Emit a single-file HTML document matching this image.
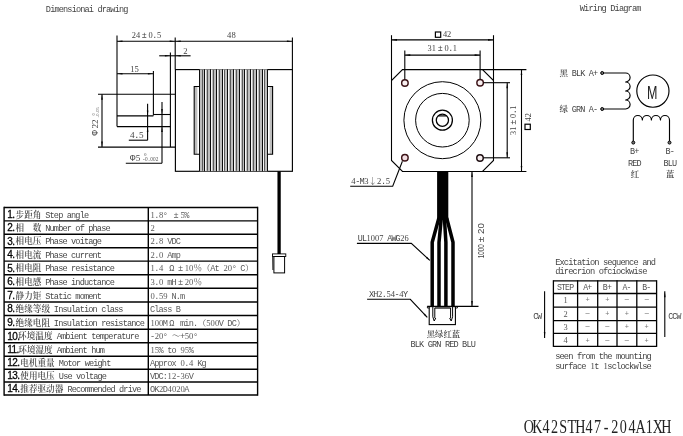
<!DOCTYPE html>
<html lang="zh"><head><meta charset="utf-8"><title>OK42STH47-204A1XH</title>
<style>
html,body{margin:0;padding:0;background:#fff;}
body{width:683px;height:436px;overflow:hidden;}
svg{display:block;}
</style></head><body>
<svg width="683" height="436" viewBox="0 0 683 436">
<rect width="683" height="436" fill="#fff"/>
<g opacity="0.999">
<text x="48.45 52.75 57.05 61.35 65.65 69.95 74.25 78.55 82.85 87.15 91.45 95.75 100.05 104.35 108.65 112.95 117.25 121.55 125.85" y="12.00" font-size="8.60" fill="#444" font-family='"Liberation Mono","Noto Serif CJK SC",monospace' text-anchor="middle" >Dimensionai drawing</text>
<text x="582.38 586.73 591.08 595.43 599.78 604.13 608.48 612.83 617.18 621.53 625.88 630.23 634.58 638.93" y="10.60" font-size="8.70" fill="#444" font-family='"Liberation Mono","Noto Serif CJK SC",monospace' text-anchor="middle" >Wiring Diagram</text>
<line x1="117.00" y1="35.50" x2="117.00" y2="126.60" stroke="#000" stroke-width="1.10" />
<line x1="175.20" y1="37.60" x2="175.20" y2="69.30" stroke="#000" stroke-width="1.10" />
<line x1="292.40" y1="37.40" x2="292.40" y2="69.60" stroke="#000" stroke-width="1.10" />
<line x1="117.00" y1="41.20" x2="292.40" y2="41.20" stroke="#000" stroke-width="1.10" />
<polygon points="117.00,41.20 122.50,40.40 122.50,42.00" fill="#000"/>
<polygon points="175.20,41.20 169.70,42.00 169.70,40.40" fill="#000"/>
<polygon points="175.20,41.20 180.70,40.40 180.70,42.00" fill="#000"/>
<polygon points="292.40,41.20 286.90,42.00 286.90,40.40" fill="#000"/>
<text x="133.80 138.00 144.30 150.60 154.80 159.00" y="37.80" font-size="8.40" fill="#444" font-family='"Liberation Mono","Noto Serif CJK SC",monospace' text-anchor="middle" ><tspan font-family='"Liberation Serif","Noto Serif CJK SC",serif'>24</tspan>±<tspan font-family='"Liberation Serif","Noto Serif CJK SC",serif'>0</tspan>.<tspan font-family='"Liberation Serif","Noto Serif CJK SC",serif'>5</tspan></text>
<text x="229.25 233.55" y="37.80" font-size="8.60" fill="#444" font-family='"Liberation Mono","Noto Serif CJK SC",monospace' text-anchor="middle" ><tspan font-family='"Liberation Serif","Noto Serif CJK SC",serif'>48</tspan></text>
<line x1="159.20" y1="55.80" x2="190.60" y2="55.80" stroke="#000" stroke-width="1.10" />
<line x1="170.40" y1="52.50" x2="170.40" y2="147.10" stroke="#000" stroke-width="1.10" />
<polygon points="170.40,55.80 164.90,56.60 164.90,55.00" fill="#000"/>
<polygon points="175.20,55.80 180.70,55.00 180.70,56.60" fill="#000"/>
<text x="185.50" y="54.00" font-size="8.60" fill="#444" font-family='"Liberation Mono","Noto Serif CJK SC",monospace' text-anchor="middle" ><tspan font-family='"Liberation Serif","Noto Serif CJK SC",serif'>2</tspan></text>
<line x1="117.00" y1="73.80" x2="153.40" y2="73.80" stroke="#000" stroke-width="1.10" />
<line x1="153.40" y1="71.00" x2="153.40" y2="115.60" stroke="#000" stroke-width="1.10" />
<polygon points="117.00,73.80 122.50,73.00 122.50,74.60" fill="#000"/>
<polygon points="153.40,73.80 147.90,74.60 147.90,73.00" fill="#000"/>
<text x="132.35 136.65" y="71.70" font-size="8.60" fill="#444" font-family='"Liberation Mono","Noto Serif CJK SC",monospace' text-anchor="middle" ><tspan font-family='"Liberation Serif","Noto Serif CJK SC",serif'>15</tspan></text>
<line x1="98.00" y1="94.20" x2="175.20" y2="94.20" stroke="#000" stroke-width="1.10" />
<line x1="98.00" y1="147.10" x2="175.20" y2="147.10" stroke="#000" stroke-width="1.10" />
<line x1="102.00" y1="94.20" x2="102.00" y2="147.10" stroke="#000" stroke-width="1.10" />
<polygon points="102.00,94.20 102.80,99.70 101.20,99.70" fill="#000"/>
<polygon points="102.00,147.10 101.20,141.60 102.80,141.60" fill="#000"/>
<line x1="117.00" y1="115.90" x2="153.40" y2="115.90" stroke="#000" stroke-width="1.10" />
<line x1="153.40" y1="114.50" x2="170.40" y2="114.50" stroke="#000" stroke-width="1.10" />
<line x1="117.00" y1="126.60" x2="170.40" y2="126.60" stroke="#000" stroke-width="1.10" />
<line x1="147.60" y1="103.80" x2="147.60" y2="140.20" stroke="#000" stroke-width="1.10" />
<polygon points="147.60,115.90 146.80,110.40 148.40,110.40" fill="#000"/>
<polygon points="147.60,126.60 148.40,132.10 146.80,132.10" fill="#000"/>
<line x1="128.80" y1="140.20" x2="147.60" y2="140.20" stroke="#000" stroke-width="1.10" />
<text x="132.20 136.80 141.40" y="138.30" font-size="9.20" fill="#444" font-family='"Liberation Mono","Noto Serif CJK SC",monospace' text-anchor="middle" ><tspan font-family='"Liberation Serif","Noto Serif CJK SC",serif'>4</tspan>.<tspan font-family='"Liberation Serif","Noto Serif CJK SC",serif'>5</tspan></text>
<line x1="162.00" y1="102.00" x2="162.00" y2="163.30" stroke="#000" stroke-width="1.10" />
<polygon points="162.00,114.50 161.20,109.00 162.80,109.00" fill="#000"/>
<polygon points="162.00,126.60 162.80,132.10 161.20,132.10" fill="#000"/>
<line x1="125.80" y1="163.30" x2="162.00" y2="163.30" stroke="#000" stroke-width="1.10" />
<text x="132.60" y="160.90" font-size="9.00" fill="#444" font-family='"Liberation Mono","Noto Serif CJK SC",monospace' text-anchor="middle" >Φ</text>
<text x="138.10" y="160.90" font-size="9.20" fill="#444" font-family='"Liberation Mono","Noto Serif CJK SC",monospace' text-anchor="middle" ><tspan font-family='"Liberation Serif","Noto Serif CJK SC",serif'>5</tspan></text>
<text x="145.25" y="156.20" font-size="5.00" fill="#555" font-family='"Liberation Mono","Noto Serif CJK SC",monospace' text-anchor="middle" ><tspan font-family='"Liberation Serif","Noto Serif CJK SC",serif'>0</tspan></text>
<text x="143.72 146.38 149.03 151.68 154.33 156.98" y="161.20" font-size="5.30" fill="#555" font-family='"Liberation Mono","Noto Serif CJK SC",monospace' text-anchor="middle" >-<tspan font-family='"Liberation Serif","Noto Serif CJK SC",serif'>0</tspan>.<tspan font-family='"Liberation Serif","Noto Serif CJK SC",serif'>002</tspan></text>
<g transform="translate(98.3,121) rotate(-90)">
<text x="-11.80" y="0.00" font-size="9.00" fill="#444" font-family='"Liberation Mono","Noto Serif CJK SC",monospace' text-anchor="middle" >Φ</text>
<text x="-5.30 -0.70" y="0.00" font-size="9.20" fill="#444" font-family='"Liberation Mono","Noto Serif CJK SC",monospace' text-anchor="middle" ><tspan font-family='"Liberation Serif","Noto Serif CJK SC",serif'>22</tspan></text>
<text x="6.50" y="-3.40" font-size="4.40" fill="#555" font-family='"Liberation Mono","Noto Serif CJK SC",monospace' text-anchor="middle" ><tspan font-family='"Liberation Serif","Noto Serif CJK SC",serif'>0</tspan></text>
<text x="4.32 6.38 8.42 10.47 12.53" y="0.20" font-size="4.40" fill="#555" font-family='"Liberation Mono","Noto Serif CJK SC",monospace' text-anchor="middle" >-<tspan font-family='"Liberation Serif","Noto Serif CJK SC",serif'>0</tspan>.<tspan font-family='"Liberation Serif","Noto Serif CJK SC",serif'>05</tspan></text>
</g>
<rect x="175.40" y="69.60" width="117.00" height="101.70" stroke="#000" stroke-width="1.15" fill="none"/>
<rect x="199.20" y="69.3" width="68.60" height="102" fill="#bebebe"/>
<line x1="199.50" y1="69.30" x2="199.50" y2="171.30" stroke="#0c0c0c" stroke-width="1.00" />
<line x1="202.50" y1="69.80" x2="202.50" y2="170.80" stroke="#5a5a5a" stroke-width="1.00" />
<line x1="205.50" y1="69.80" x2="205.50" y2="170.80" stroke="#f6f6f6" stroke-width="1.00" />
<line x1="204.50" y1="69.30" x2="204.50" y2="171.30" stroke="#0c0c0c" stroke-width="1.00" />
<line x1="207.50" y1="69.80" x2="207.50" y2="170.80" stroke="#5a5a5a" stroke-width="1.00" />
<line x1="211.50" y1="69.80" x2="211.50" y2="170.80" stroke="#f6f6f6" stroke-width="1.00" />
<line x1="210.50" y1="69.30" x2="210.50" y2="171.30" stroke="#0c0c0c" stroke-width="1.00" />
<line x1="213.50" y1="69.80" x2="213.50" y2="170.80" stroke="#5a5a5a" stroke-width="1.00" />
<line x1="217.50" y1="69.80" x2="217.50" y2="170.80" stroke="#f6f6f6" stroke-width="1.00" />
<line x1="216.50" y1="69.30" x2="216.50" y2="171.30" stroke="#0c0c0c" stroke-width="1.00" />
<line x1="219.50" y1="69.80" x2="219.50" y2="170.80" stroke="#5a5a5a" stroke-width="1.00" />
<line x1="223.50" y1="69.80" x2="223.50" y2="170.80" stroke="#f6f6f6" stroke-width="1.00" />
<line x1="222.50" y1="69.30" x2="222.50" y2="171.30" stroke="#0c0c0c" stroke-width="1.00" />
<line x1="224.50" y1="69.80" x2="224.50" y2="170.80" stroke="#5a5a5a" stroke-width="1.00" />
<line x1="228.50" y1="69.80" x2="228.50" y2="170.80" stroke="#f6f6f6" stroke-width="1.00" />
<line x1="227.50" y1="69.30" x2="227.50" y2="171.30" stroke="#0c0c0c" stroke-width="1.00" />
<line x1="230.50" y1="69.80" x2="230.50" y2="170.80" stroke="#5a5a5a" stroke-width="1.00" />
<line x1="234.50" y1="69.80" x2="234.50" y2="170.80" stroke="#f6f6f6" stroke-width="1.00" />
<line x1="233.50" y1="69.30" x2="233.50" y2="171.30" stroke="#0c0c0c" stroke-width="1.00" />
<line x1="236.50" y1="69.80" x2="236.50" y2="170.80" stroke="#5a5a5a" stroke-width="1.00" />
<line x1="240.50" y1="69.80" x2="240.50" y2="170.80" stroke="#f6f6f6" stroke-width="1.00" />
<line x1="239.50" y1="69.30" x2="239.50" y2="171.30" stroke="#0c0c0c" stroke-width="1.00" />
<line x1="242.50" y1="69.80" x2="242.50" y2="170.80" stroke="#5a5a5a" stroke-width="1.00" />
<line x1="245.50" y1="69.80" x2="245.50" y2="170.80" stroke="#f6f6f6" stroke-width="1.00" />
<line x1="244.50" y1="69.30" x2="244.50" y2="171.30" stroke="#0c0c0c" stroke-width="1.00" />
<line x1="247.50" y1="69.80" x2="247.50" y2="170.80" stroke="#5a5a5a" stroke-width="1.00" />
<line x1="251.50" y1="69.80" x2="251.50" y2="170.80" stroke="#f6f6f6" stroke-width="1.00" />
<line x1="250.50" y1="69.30" x2="250.50" y2="171.30" stroke="#0c0c0c" stroke-width="1.00" />
<line x1="253.50" y1="69.80" x2="253.50" y2="170.80" stroke="#5a5a5a" stroke-width="1.00" />
<line x1="257.50" y1="69.80" x2="257.50" y2="170.80" stroke="#f6f6f6" stroke-width="1.00" />
<line x1="256.50" y1="69.30" x2="256.50" y2="171.30" stroke="#0c0c0c" stroke-width="1.00" />
<line x1="259.50" y1="69.80" x2="259.50" y2="170.80" stroke="#5a5a5a" stroke-width="1.00" />
<line x1="263.50" y1="69.80" x2="263.50" y2="170.80" stroke="#f6f6f6" stroke-width="1.00" />
<line x1="262.50" y1="69.30" x2="262.50" y2="171.30" stroke="#0c0c0c" stroke-width="1.00" />
<line x1="264.50" y1="69.80" x2="264.50" y2="170.80" stroke="#5a5a5a" stroke-width="1.00" />
<line x1="267.50" y1="69.30" x2="267.50" y2="171.30" stroke="#0c0c0c" stroke-width="1.00" />
<rect x="194.6" y="86.6" width="2.8" height="67.4" fill="#bdbdbd"/>
<rect x="269.6" y="86.6" width="2.6" height="67.4" fill="#bdbdbd"/>
<path d="M199.2,86.5 H194.2 V154.2 H199.2" stroke="#000" stroke-width="1.10" fill="none" />
<path d="M267.8,86.5 H272.6 V154.2 H267.8" stroke="#000" stroke-width="1.10" fill="none" />
<line x1="279.10" y1="171.30" x2="279.10" y2="254.00" stroke="#000" stroke-width="3.30" />
<rect x="272.50" y="253.90" width="13.30" height="2.60" stroke="#000" stroke-width="0.90" fill="none"/>
<rect x="273.90" y="256.50" width="10.70" height="16.40" stroke="#000" stroke-width="1.00" fill="none"/>
<line x1="272.70" y1="256.50" x2="272.90" y2="270.00" stroke="#000" stroke-width="0.90" />
<line x1="4.10" y1="207.45" x2="257.60" y2="207.45" stroke="#000" stroke-width="1.40" />
<line x1="4.10" y1="220.90" x2="257.60" y2="220.90" stroke="#000" stroke-width="1.40" />
<line x1="4.10" y1="234.30" x2="257.60" y2="234.30" stroke="#000" stroke-width="1.40" />
<line x1="4.10" y1="247.70" x2="257.60" y2="247.70" stroke="#000" stroke-width="1.40" />
<line x1="4.10" y1="261.10" x2="257.60" y2="261.10" stroke="#000" stroke-width="1.40" />
<line x1="4.10" y1="274.80" x2="257.60" y2="274.80" stroke="#000" stroke-width="1.40" />
<line x1="4.10" y1="288.30" x2="257.60" y2="288.30" stroke="#000" stroke-width="1.40" />
<line x1="4.10" y1="302.00" x2="257.60" y2="302.00" stroke="#000" stroke-width="1.40" />
<line x1="4.10" y1="315.50" x2="257.60" y2="315.50" stroke="#000" stroke-width="1.40" />
<line x1="4.10" y1="329.30" x2="257.60" y2="329.30" stroke="#000" stroke-width="1.40" />
<line x1="4.10" y1="342.80" x2="257.60" y2="342.80" stroke="#000" stroke-width="1.40" />
<line x1="4.10" y1="356.20" x2="257.60" y2="356.20" stroke="#000" stroke-width="1.40" />
<line x1="4.10" y1="369.30" x2="257.60" y2="369.30" stroke="#000" stroke-width="1.40" />
<line x1="4.10" y1="382.00" x2="257.60" y2="382.00" stroke="#000" stroke-width="1.40" />
<line x1="4.10" y1="395.00" x2="257.60" y2="395.00" stroke="#000" stroke-width="1.40" />
<line x1="4.10" y1="206.75" x2="4.10" y2="395.70" stroke="#000" stroke-width="1.40" />
<line x1="257.60" y1="206.75" x2="257.60" y2="395.70" stroke="#000" stroke-width="1.40" />
<line x1="148.30" y1="207.45" x2="148.30" y2="395.00" stroke="#000" stroke-width="1.40" />
<text x="7.30" y="217.78" font-size="10" fill="#000" stroke="#000" stroke-width="0.28" font-family='"Liberation Sans",sans-serif' letter-spacing="-0.55">1.</text>
<text x="19.90 28.50 37.10" y="217.58" font-size="8.60" fill="#4a4a4a" font-family='"Liberation Mono","Noto Serif CJK SC",monospace' text-anchor="middle" font-weight="600" >步距角</text>
<text x="47.85 52.15 56.45 60.75 65.05 69.35 73.65 77.95 82.25 86.55" y="217.58" font-size="8.60" fill="#484848" font-family='"Liberation Mono","Noto Serif CJK SC",monospace' text-anchor="middle" >Step angle</text>
<text x="152.55 156.85 161.15 165.45 169.75 176.20 182.65 186.95" y="217.58" font-size="8.60" fill="#5a5a5a" font-family='"Liberation Mono","Noto Serif CJK SC",monospace' text-anchor="middle" ><tspan font-family='"Liberation Serif","Noto Serif CJK SC",serif'>1</tspan>.<tspan font-family='"Liberation Serif","Noto Serif CJK SC",serif'>8</tspan>° ±<tspan font-family='"Liberation Serif","Noto Serif CJK SC",serif'>5</tspan>%</text>
<text x="7.30" y="231.20" font-size="10" fill="#000" stroke="#000" stroke-width="0.28" font-family='"Liberation Sans",sans-serif' letter-spacing="-0.55">2.</text>
<text x="19.90" y="231.00" font-size="8.60" fill="#4a4a4a" font-family='"Liberation Mono","Noto Serif CJK SC",monospace' text-anchor="middle" font-weight="600" >相</text>
<text x="37.10" y="231.00" font-size="8.60" fill="#4a4a4a" font-family='"Liberation Mono","Noto Serif CJK SC",monospace' text-anchor="middle" font-weight="600" >数</text>
<text x="47.85 52.15 56.45 60.75 65.05 69.35 73.65 77.95 82.25 86.55 90.85 95.15 99.45 103.75 108.05" y="231.00" font-size="8.60" fill="#484848" font-family='"Liberation Mono","Noto Serif CJK SC",monospace' text-anchor="middle" >Number of phase</text>
<text x="152.55" y="231.00" font-size="8.60" fill="#5a5a5a" font-family='"Liberation Mono","Noto Serif CJK SC",monospace' text-anchor="middle" ><tspan font-family='"Liberation Serif","Noto Serif CJK SC",serif'>2</tspan></text>
<text x="7.30" y="244.60" font-size="10" fill="#000" stroke="#000" stroke-width="0.28" font-family='"Liberation Sans",sans-serif' letter-spacing="-0.55">3.</text>
<text x="19.90 28.50 37.10" y="244.40" font-size="8.60" fill="#4a4a4a" font-family='"Liberation Mono","Noto Serif CJK SC",monospace' text-anchor="middle" font-weight="600" >相电压</text>
<text x="47.85 52.15 56.45 60.75 65.05 69.35 73.65 77.95 82.25 86.55 90.85 95.15 99.45" y="244.40" font-size="8.60" fill="#484848" font-family='"Liberation Mono","Noto Serif CJK SC",monospace' text-anchor="middle" >Phase voitage</text>
<text x="152.55 156.85 161.15 165.45 169.75 174.05 178.35" y="244.40" font-size="8.60" fill="#5a5a5a" font-family='"Liberation Mono","Noto Serif CJK SC",monospace' text-anchor="middle" ><tspan font-family='"Liberation Serif","Noto Serif CJK SC",serif'>2</tspan>.<tspan font-family='"Liberation Serif","Noto Serif CJK SC",serif'>8</tspan> VDC</text>
<text x="7.30" y="258.00" font-size="10" fill="#000" stroke="#000" stroke-width="0.28" font-family='"Liberation Sans",sans-serif' letter-spacing="-0.55">4.</text>
<text x="19.90 28.50 37.10" y="257.80" font-size="8.60" fill="#4a4a4a" font-family='"Liberation Mono","Noto Serif CJK SC",monospace' text-anchor="middle" font-weight="600" >相电流</text>
<text x="47.85 52.15 56.45 60.75 65.05 69.35 73.65 77.95 82.25 86.55 90.85 95.15 99.45" y="257.80" font-size="8.60" fill="#484848" font-family='"Liberation Mono","Noto Serif CJK SC",monospace' text-anchor="middle" >Phase current</text>
<text x="152.55 156.85 161.15 165.45 169.75 174.05 178.35" y="257.80" font-size="8.60" fill="#5a5a5a" font-family='"Liberation Mono","Noto Serif CJK SC",monospace' text-anchor="middle" ><tspan font-family='"Liberation Serif","Noto Serif CJK SC",serif'>2</tspan>.<tspan font-family='"Liberation Serif","Noto Serif CJK SC",serif'>0</tspan> Amp</text>
<text x="7.30" y="271.55" font-size="10" fill="#000" stroke="#000" stroke-width="0.28" font-family='"Liberation Sans",sans-serif' letter-spacing="-0.55">5.</text>
<text x="19.90 28.50 37.10" y="271.35" font-size="8.60" fill="#4a4a4a" font-family='"Liberation Mono","Noto Serif CJK SC",monospace' text-anchor="middle" font-weight="600" >相电阻</text>
<text x="47.85 52.15 56.45 60.75 65.05 69.35 73.65 77.95 82.25 86.55 90.85 95.15 99.45 103.75 108.05 112.35" y="271.35" font-size="8.60" fill="#484848" font-family='"Liberation Mono","Noto Serif CJK SC",monospace' text-anchor="middle" >Phase resistance</text>
<text x="152.55 156.85 161.15 165.45 171.90 180.50 186.95 191.25 197.70 206.30 212.75 217.05 221.35 225.65 229.95 234.25 238.55 242.85 249.30" y="271.35" font-size="8.60" fill="#5a5a5a" font-family='"Liberation Mono","Noto Serif CJK SC",monospace' text-anchor="middle" ><tspan font-family='"Liberation Serif","Noto Serif CJK SC",serif'>1</tspan>.<tspan font-family='"Liberation Serif","Noto Serif CJK SC",serif'>4</tspan> Ω±<tspan font-family='"Liberation Serif","Noto Serif CJK SC",serif'>10</tspan>％（At <tspan font-family='"Liberation Serif","Noto Serif CJK SC",serif'>20</tspan>° C）</text>
<text x="7.30" y="285.15" font-size="10" fill="#000" stroke="#000" stroke-width="0.28" font-family='"Liberation Sans",sans-serif' letter-spacing="-0.55">6.</text>
<text x="19.90 28.50 37.10" y="284.95" font-size="8.60" fill="#4a4a4a" font-family='"Liberation Mono","Noto Serif CJK SC",monospace' text-anchor="middle" font-weight="600" >相电感</text>
<text x="47.85 52.15 56.45 60.75 65.05 69.35 73.65 77.95 82.25 86.55 90.85 95.15 99.45 103.75 108.05 112.35" y="284.95" font-size="8.60" fill="#484848" font-family='"Liberation Mono","Noto Serif CJK SC",monospace' text-anchor="middle" >Phase inductance</text>
<text x="152.55 156.85 161.15 165.45 169.75 174.05 180.50 186.95 191.25 197.70" y="284.95" font-size="8.60" fill="#5a5a5a" font-family='"Liberation Mono","Noto Serif CJK SC",monospace' text-anchor="middle" ><tspan font-family='"Liberation Serif","Noto Serif CJK SC",serif'>3</tspan>.<tspan font-family='"Liberation Serif","Noto Serif CJK SC",serif'>0</tspan> mH±<tspan font-family='"Liberation Serif","Noto Serif CJK SC",serif'>20</tspan>％</text>
<text x="7.30" y="298.75" font-size="10" fill="#000" stroke="#000" stroke-width="0.28" font-family='"Liberation Sans",sans-serif' letter-spacing="-0.55">7.</text>
<text x="19.90 28.50 37.10" y="298.55" font-size="8.60" fill="#4a4a4a" font-family='"Liberation Mono","Noto Serif CJK SC",monospace' text-anchor="middle" font-weight="600" >静力矩</text>
<text x="47.85 52.15 56.45 60.75 65.05 69.35 73.65 77.95 82.25 86.55 90.85 95.15 99.45" y="298.55" font-size="8.60" fill="#484848" font-family='"Liberation Mono","Noto Serif CJK SC",monospace' text-anchor="middle" >Static moment</text>
<text x="152.55 156.85 161.15 165.45 169.75 174.05 178.35 182.65" y="298.55" font-size="8.60" fill="#5a5a5a" font-family='"Liberation Mono","Noto Serif CJK SC",monospace' text-anchor="middle" ><tspan font-family='"Liberation Serif","Noto Serif CJK SC",serif'>0</tspan>.<tspan font-family='"Liberation Serif","Noto Serif CJK SC",serif'>59</tspan> N.m</text>
<text x="7.30" y="312.35" font-size="10" fill="#000" stroke="#000" stroke-width="0.28" font-family='"Liberation Sans",sans-serif' letter-spacing="-0.55">8.</text>
<text x="19.90 28.50 37.10 45.70" y="312.15" font-size="8.60" fill="#4a4a4a" font-family='"Liberation Mono","Noto Serif CJK SC",monospace' text-anchor="middle" font-weight="600" >绝缘等级</text>
<text x="56.45 60.75 65.05 69.35 73.65 77.95 82.25 86.55 90.85 95.15 99.45 103.75 108.05 112.35 116.65 120.95" y="312.15" font-size="8.60" fill="#484848" font-family='"Liberation Mono","Noto Serif CJK SC",monospace' text-anchor="middle" >Insulation class</text>
<text x="152.55 156.85 161.15 165.45 169.75 174.05 178.35" y="312.15" font-size="8.60" fill="#5a5a5a" font-family='"Liberation Mono","Noto Serif CJK SC",monospace' text-anchor="middle" >Class B</text>
<text x="7.30" y="326.00" font-size="10" fill="#000" stroke="#000" stroke-width="0.28" font-family='"Liberation Sans",sans-serif' letter-spacing="-0.55">9.</text>
<text x="19.90 28.50 37.10 45.70" y="325.80" font-size="8.60" fill="#4a4a4a" font-family='"Liberation Mono","Noto Serif CJK SC",monospace' text-anchor="middle" font-weight="600" >绝缘电阻</text>
<text x="56.45 60.75 65.05 69.35 73.65 77.95 82.25 86.55 90.85 95.15 99.45 103.75 108.05 112.35 116.65 120.95 125.25 129.55 133.85 138.15 142.45" y="325.80" font-size="8.60" fill="#484848" font-family='"Liberation Mono","Noto Serif CJK SC",monospace' text-anchor="middle" >Insulation resistance</text>
<text x="152.55 156.85 161.15 165.45 171.90 178.35 182.65 186.95 191.25 195.55 202.00 208.45 212.75 217.05 221.35 225.65 229.95 234.25 240.70" y="325.80" font-size="8.60" fill="#5a5a5a" font-family='"Liberation Mono","Noto Serif CJK SC",monospace' text-anchor="middle" ><tspan font-family='"Liberation Serif","Noto Serif CJK SC",serif'>100</tspan>MΩ min.（<tspan font-family='"Liberation Serif","Noto Serif CJK SC",serif'>500</tspan>V DC）</text>
<text x="7.20" y="339.65" font-size="10" fill="#000" stroke="#000" stroke-width="0.28" font-family='"Liberation Sans",sans-serif' letter-spacing="-0.55">10.</text>
<text x="22.40 31.00 39.60 48.20" y="339.45" font-size="8.60" fill="#4a4a4a" font-family='"Liberation Mono","Noto Serif CJK SC",monospace' text-anchor="middle" font-weight="600" >环境温度</text>
<text x="59.35 63.65 67.95 72.25 76.55 80.85 85.15 89.45 93.75 98.05 102.35 106.65 110.95 115.25 119.55 123.85 128.15 132.45 136.75" y="339.45" font-size="8.60" fill="#484848" font-family='"Liberation Mono","Noto Serif CJK SC",monospace' text-anchor="middle" >Ambient temperature</text>
<text x="152.55 156.85 161.15 165.45 169.75 176.20 182.65 186.95 191.25 195.55" y="339.45" font-size="8.60" fill="#5a5a5a" font-family='"Liberation Mono","Noto Serif CJK SC",monospace' text-anchor="middle" >-<tspan font-family='"Liberation Serif","Noto Serif CJK SC",serif'>20</tspan>° ～+<tspan font-family='"Liberation Serif","Noto Serif CJK SC",serif'>50</tspan>°</text>
<text x="7.20" y="353.10" font-size="10" fill="#000" stroke="#000" stroke-width="0.28" font-family='"Liberation Sans",sans-serif' letter-spacing="-0.55">11.</text>
<text x="22.60 31.20 39.80 48.40" y="352.90" font-size="8.60" fill="#4a4a4a" font-family='"Liberation Mono","Noto Serif CJK SC",monospace' text-anchor="middle" font-weight="600" >环境湿度</text>
<text x="59.35 63.65 67.95 72.25 76.55 80.85 85.15 89.45 93.75 98.05 102.35" y="352.90" font-size="8.60" fill="#484848" font-family='"Liberation Mono","Noto Serif CJK SC",monospace' text-anchor="middle" >Ambient hum</text>
<text x="152.55 156.85 161.15 165.45 169.75 174.05 178.35 182.65 186.95 191.25" y="352.90" font-size="8.60" fill="#5a5a5a" font-family='"Liberation Mono","Noto Serif CJK SC",monospace' text-anchor="middle" ><tspan font-family='"Liberation Serif","Noto Serif CJK SC",serif'>15</tspan>% to <tspan font-family='"Liberation Serif","Noto Serif CJK SC",serif'>95</tspan>%</text>
<text x="7.20" y="366.35" font-size="10" fill="#000" stroke="#000" stroke-width="0.28" font-family='"Liberation Sans",sans-serif' letter-spacing="-0.55">12.</text>
<text x="24.60 33.20 41.80 50.40" y="366.15" font-size="8.60" fill="#4a4a4a" font-family='"Liberation Mono","Noto Serif CJK SC",monospace' text-anchor="middle" font-weight="600" >电机重量</text>
<text x="61.45 65.75 70.05 74.35 78.65 82.95 87.25 91.55 95.85 100.15 104.45 108.75" y="366.15" font-size="8.60" fill="#484848" font-family='"Liberation Mono","Noto Serif CJK SC",monospace' text-anchor="middle" >Motor weight</text>
<text x="152.55 156.85 161.15 165.45 169.75 174.05 178.35 182.65 186.95 191.25 195.55 199.85 204.15" y="366.15" font-size="8.60" fill="#5a5a5a" font-family='"Liberation Mono","Noto Serif CJK SC",monospace' text-anchor="middle" >Approx <tspan font-family='"Liberation Serif","Noto Serif CJK SC",serif'>0</tspan>.<tspan font-family='"Liberation Serif","Noto Serif CJK SC",serif'>4</tspan> Kg</text>
<text x="7.20" y="379.25" font-size="10" fill="#000" stroke="#000" stroke-width="0.28" font-family='"Liberation Sans",sans-serif' letter-spacing="-0.55">13.</text>
<text x="24.60 33.20 41.80 50.40" y="379.05" font-size="8.60" fill="#4a4a4a" font-family='"Liberation Mono","Noto Serif CJK SC",monospace' text-anchor="middle" font-weight="600" >使用电压</text>
<text x="61.45 65.75 70.05 74.35 78.65 82.95 87.25 91.55 95.85 100.15 104.45" y="379.05" font-size="8.60" fill="#484848" font-family='"Liberation Mono","Noto Serif CJK SC",monospace' text-anchor="middle" >Use voltage</text>
<text x="152.55 156.85 161.15 165.45 169.75 174.05 178.35 182.65 186.95 191.25" y="379.05" font-size="8.60" fill="#5a5a5a" font-family='"Liberation Mono","Noto Serif CJK SC",monospace' text-anchor="middle" >VDC:<tspan font-family='"Liberation Serif","Noto Serif CJK SC",serif'>12</tspan>-<tspan font-family='"Liberation Serif","Noto Serif CJK SC",serif'>36</tspan>V</text>
<text x="7.20" y="392.10" font-size="10" fill="#000" stroke="#000" stroke-width="0.28" font-family='"Liberation Sans",sans-serif' letter-spacing="-0.55">14.</text>
<text x="24.60 33.20 41.80 50.40 59.00" y="391.90" font-size="8.60" fill="#4a4a4a" font-family='"Liberation Mono","Noto Serif CJK SC",monospace' text-anchor="middle" font-weight="600" >推荐驱动器</text>
<text x="70.05 74.35 78.65 82.95 87.25 91.55 95.85 100.15 104.45 108.75 113.05 117.35 121.65 125.95 130.25 134.55 138.85" y="391.90" font-size="8.60" fill="#484848" font-family='"Liberation Mono","Noto Serif CJK SC",monospace' text-anchor="middle" >Recommended drive</text>
<text x="152.55 156.85 161.15 165.45 169.75 174.05 178.35 182.65 186.95" y="391.90" font-size="8.60" fill="#5a5a5a" font-family='"Liberation Mono","Noto Serif CJK SC",monospace' text-anchor="middle" >OK<tspan font-family='"Liberation Serif","Noto Serif CJK SC",serif'>2</tspan>D<tspan font-family='"Liberation Serif","Noto Serif CJK SC",serif'>4020</tspan>A</text>
<path d="M402.50,69.60 L482.50,69.60 L493.50,80.60 L493.50,160.50 L482.50,171.50 L402.50,171.50 L391.50,160.50 L391.50,80.60 Z" stroke="#000" stroke-width="1.10" fill="none" />
<circle cx="442.40" cy="120.20" r="38.50" stroke="#000" stroke-width="1.00" fill="none"/>
<circle cx="442.40" cy="120.20" r="26.80" stroke="#000" stroke-width="1.00" fill="none"/>
<circle cx="442.40" cy="120.20" r="10.00" stroke="#000" stroke-width="1.30" fill="none"/>
<circle cx="442.40" cy="120.20" r="6.10" stroke="#000" stroke-width="1.30" fill="none"/>
<line x1="438.10" y1="115.90" x2="446.70" y2="115.90" stroke="#000" stroke-width="1.20" />
<circle cx="404.90" cy="82.90" r="3.25" stroke="#3c1418" stroke-width="1.45" fill="#f8eff0"/>
<circle cx="480.10" cy="82.80" r="3.25" stroke="#3c1418" stroke-width="1.45" fill="#f8eff0"/>
<circle cx="404.90" cy="157.80" r="3.25" stroke="#3c1418" stroke-width="1.45" fill="#f3dfe3"/>
<circle cx="480.00" cy="157.90" r="3.25" stroke="#1c0c10" stroke-width="1.45" fill="#f8eff0"/>
<line x1="391.50" y1="35.20" x2="391.50" y2="80.60" stroke="#000" stroke-width="1.10" />
<line x1="493.50" y1="35.20" x2="493.50" y2="80.60" stroke="#000" stroke-width="1.10" />
<line x1="391.50" y1="39.90" x2="493.50" y2="39.90" stroke="#000" stroke-width="1.10" />
<polygon points="391.50,39.90 397.00,39.10 397.00,40.70" fill="#000"/>
<polygon points="493.50,39.90 488.00,40.70 488.00,39.10" fill="#000"/>
<rect x="435.40" y="32.00" width="5.30" height="5.30" stroke="#000" stroke-width="1.20" fill="none"/>
<text x="445.00 449.20" y="37.20" font-size="8.40" fill="#444" font-family='"Liberation Mono","Noto Serif CJK SC",monospace' text-anchor="middle" ><tspan font-family='"Liberation Serif","Noto Serif CJK SC",serif'>42</tspan></text>
<line x1="404.80" y1="50.50" x2="404.80" y2="79.50" stroke="#000" stroke-width="1.10" />
<line x1="480.10" y1="50.50" x2="480.10" y2="79.50" stroke="#000" stroke-width="1.10" />
<line x1="404.80" y1="55.10" x2="480.10" y2="55.10" stroke="#000" stroke-width="1.10" />
<polygon points="404.80,55.10 410.30,54.30 410.30,55.90" fill="#000"/>
<polygon points="480.10,55.10 474.60,55.90 474.60,54.30" fill="#000"/>
<text x="429.70 433.90 440.20 446.50 450.70 454.90" y="51.20" font-size="8.40" fill="#444" font-family='"Liberation Mono","Noto Serif CJK SC",monospace' text-anchor="middle" ><tspan font-family='"Liberation Serif","Noto Serif CJK SC",serif'>31</tspan>±<tspan font-family='"Liberation Serif","Noto Serif CJK SC",serif'>0</tspan>.<tspan font-family='"Liberation Serif","Noto Serif CJK SC",serif'>1</tspan></text>
<line x1="482.50" y1="69.60" x2="526.40" y2="69.60" stroke="#000" stroke-width="1.10" />
<line x1="482.50" y1="171.50" x2="526.40" y2="171.50" stroke="#000" stroke-width="1.10" />
<line x1="521.50" y1="69.60" x2="521.50" y2="171.50" stroke="#000" stroke-width="1.10" />
<polygon points="521.50,69.60 522.30,75.10 520.70,75.10" fill="#000"/>
<polygon points="521.50,171.50 520.70,166.00 522.30,166.00" fill="#000"/>
<line x1="483.40" y1="82.70" x2="510.00" y2="82.70" stroke="#000" stroke-width="1.10" />
<line x1="483.40" y1="157.80" x2="510.00" y2="157.80" stroke="#000" stroke-width="1.10" />
<line x1="507.20" y1="82.70" x2="507.20" y2="157.80" stroke="#000" stroke-width="1.10" />
<polygon points="507.20,82.70 508.00,88.20 506.40,88.20" fill="#000"/>
<polygon points="507.20,157.80 506.40,152.30 508.00,152.30" fill="#000"/>
<g transform="translate(516,120.2) rotate(-90)">
<text x="-12.60 -8.40 -2.10 4.20 8.40 12.60" y="0.00" font-size="8.40" fill="#444" font-family='"Liberation Mono","Noto Serif CJK SC",monospace' text-anchor="middle" ><tspan font-family='"Liberation Serif","Noto Serif CJK SC",serif'>31</tspan>±<tspan font-family='"Liberation Serif","Noto Serif CJK SC",serif'>0</tspan>.<tspan font-family='"Liberation Serif","Noto Serif CJK SC",serif'>1</tspan></text>
</g>
<g transform="translate(530.8,122) rotate(-90)">
<rect x="-7.50" y="-5.80" width="5.30" height="5.30" stroke="#000" stroke-width="1.20" fill="none"/>
<text x="2.70 6.90" y="0.00" font-size="8.40" fill="#444" font-family='"Liberation Mono","Noto Serif CJK SC",monospace' text-anchor="middle" ><tspan font-family='"Liberation Serif","Noto Serif CJK SC",serif'>42</tspan></text>
</g>
<path d="M402.4,161.2 L392.7,186.3 H350.2" stroke="#000" stroke-width="1.10" fill="none" />
<text x="353.45 357.75 362.05 366.35 372.80 379.25 383.55 387.85" y="184.00" font-size="8.60" fill="#444" font-family='"Liberation Mono","Noto Serif CJK SC",monospace' text-anchor="middle" ><tspan font-family='"Liberation Serif","Noto Serif CJK SC",serif'>4</tspan>-M<tspan font-family='"Liberation Serif","Noto Serif CJK SC",serif'>3</tspan><tspan font-family='"Noto Serif CJK SC",serif'>↓</tspan><tspan font-family='"Liberation Serif","Noto Serif CJK SC",serif'>2</tspan>.<tspan font-family='"Liberation Serif","Noto Serif CJK SC",serif'>5</tspan></text>
<rect x="437.1" y="171.5" width="11.2" height="48.5" fill="#000"/>
<path d="M438.90,218 L432.20,242.3 V306.2" stroke="#000" stroke-width="3.50" fill="none" stroke-linejoin="round"/>
<path d="M441.30,218 L439.00,242.3 V306.2" stroke="#000" stroke-width="3.50" fill="none" stroke-linejoin="round"/>
<path d="M444.40,218 L445.90,242.3 V306.2" stroke="#000" stroke-width="3.50" fill="none" stroke-linejoin="round"/>
<path d="M446.70,218 L453.00,242.3 V306.2" stroke="#000" stroke-width="3.50" fill="none" stroke-linejoin="round"/>
<line x1="472.00" y1="171.50" x2="472.00" y2="306.40" stroke="#000" stroke-width="1.10" />
<polygon points="472.00,171.50 472.80,177.00 471.20,177.00" fill="#000"/>
<polygon points="472.00,306.40 471.20,300.90 472.80,300.90" fill="#000"/>
<line x1="427.20" y1="306.40" x2="478.50" y2="306.40" stroke="#000" stroke-width="1.10" />
<g transform="translate(484.6,258) rotate(-90)" font-family='"Liberation Sans",sans-serif' font-size="9.6" fill="#444">
<text x="-0.3" y="-0.6" textLength="14" lengthAdjust="spacingAndGlyphs">1000</text>
<text x="15.8" y="-0.6" textLength="5.6" lengthAdjust="spacingAndGlyphs">±</text>
<text x="24" y="-0.6" textLength="10.8" lengthAdjust="spacingAndGlyphs">20</text>
</g>
<text x="360.30 364.50 368.70 372.90 377.10 381.30 385.50 389.70 393.90 398.10 402.30 406.50" y="240.60" font-size="8.40" fill="#444" font-family='"Liberation Mono","Noto Serif CJK SC",monospace' text-anchor="middle" >UL<tspan font-family='"Liberation Serif","Noto Serif CJK SC",serif'>1007</tspan> AWG<tspan font-family='"Liberation Serif","Noto Serif CJK SC",serif'>26</tspan></text>
<path d="M356.9,243.4 H411.3 L429.8,260.4" stroke="#000" stroke-width="1.10" fill="none" />
<polygon points="429.80,260.40 425.95,257.94 427.03,256.77" fill="#000"/>
<text x="371.62 375.88 380.12 384.38 388.62 392.88 397.12 401.38 405.62" y="296.80" font-size="8.50" fill="#444" font-family='"Liberation Mono","Noto Serif CJK SC",monospace' text-anchor="middle" >XH<tspan font-family='"Liberation Serif","Noto Serif CJK SC",serif'>2</tspan>.<tspan font-family='"Liberation Serif","Noto Serif CJK SC",serif'>54</tspan>-<tspan font-family='"Liberation Serif","Noto Serif CJK SC",serif'>4</tspan>Y</text>
<path d="M367.1,299.3 H410.3 L427.3,317.4" stroke="#000" stroke-width="1.10" fill="none" />
<polygon points="427.30,317.40 423.64,314.67 424.80,313.57" fill="#000"/>
<rect x="429.20" y="306.60" width="26.20" height="18.00" stroke="#000" stroke-width="1.10" fill="none"/>
<path d="M427.4,306.4 V308 H429.2 M457.4,306.4 V308 H455.4" stroke="#000" stroke-width="0.90" fill="none" />
<path d="M434.8,308 H450.6" stroke="#000" stroke-width="1.20" fill="none" />
<path d="M434.8,308 V318.2 M450.6,308 V318.2" stroke="#000" stroke-width="1.00" fill="none" />
<path d="M432.8,307 V316.8 L434.2,321 L435.8,318 M452.6,307 V316.8 L451.2,321 L449.6,318" stroke="#000" stroke-width="1.00" fill="none" />
<text x="430.95 439.25 447.55 455.85" y="337.40" font-size="8.30" fill="#444" font-family='"Liberation Mono","Noto Serif CJK SC",monospace' text-anchor="middle" font-weight="600" >黑绿红蓝</text>
<text x="413.10 417.40 421.70 426.00 430.30 434.60 438.90 443.20 447.50 451.80 456.10 460.40 464.70 469.00 473.30" y="346.50" font-size="8.60" fill="#444" font-family='"Liberation Mono","Noto Serif CJK SC",monospace' text-anchor="middle" >BLK GRN RED BLU</text>
<text x="563.75" y="76.20" font-size="8.50" fill="#444" font-family='"Liberation Mono","Noto Serif CJK SC",monospace' text-anchor="middle" font-weight="600" >黑</text>
<text x="574.38 578.62 582.88 587.12 591.38 595.62" y="76.20" font-size="8.50" fill="#444" font-family='"Liberation Mono","Noto Serif CJK SC",monospace' text-anchor="middle" >BLK A+</text>
<text x="563.75" y="111.80" font-size="8.50" fill="#444" font-family='"Liberation Mono","Noto Serif CJK SC",monospace' text-anchor="middle" font-weight="600" >绿</text>
<text x="574.38 578.62 582.88 587.12 591.38 595.62" y="111.80" font-size="8.50" fill="#444" font-family='"Liberation Mono","Noto Serif CJK SC",monospace' text-anchor="middle" >GRN A-</text>
<circle cx="602.20" cy="73.00" r="1.50" stroke="#000" stroke-width="1.00" fill="#777"/>
<circle cx="602.20" cy="109.00" r="1.50" stroke="#000" stroke-width="1.00" fill="#777"/>
<path d="M603.7,73 H625.6 A4.5,4.5 0 0,1 625.6,82.00 A4.5,4.5 0 0,1 625.6,91.00 A4.5,4.5 0 0,1 625.6,100.00 A4.5,4.5 0 0,1 625.6,109.00 H603.7" stroke="#000" stroke-width="1.15" fill="none" stroke-linejoin="round"/>
<circle cx="652.90" cy="91.10" r="16.10" stroke="#000" stroke-width="1.15" fill="none"/>
<text x="0" y="0" font-size="18.4" fill="#222" font-family='"Liberation Sans",sans-serif' text-anchor="middle" transform="translate(652.1,98.7) scale(0.68,1)">M</text>
<path d="M633.3,141 V120 A4.525,4.525 0 0,1 642.35,120 A4.525,4.525 0 0,1 651.40,120 A4.525,4.525 0 0,1 660.45,120 A4.525,4.525 0 0,1 669.50,120 V141" stroke="#000" stroke-width="1.15" fill="none" stroke-linejoin="round"/>
<circle cx="633.30" cy="142.60" r="1.50" stroke="#000" stroke-width="1.00" fill="#777"/>
<circle cx="669.50" cy="142.60" r="1.50" stroke="#000" stroke-width="1.00" fill="#777"/>
<text x="632.67 636.92" y="154.20" font-size="8.50" fill="#444" font-family='"Liberation Mono","Noto Serif CJK SC",monospace' text-anchor="middle" >B+</text>
<text x="630.55 634.80 639.05" y="165.60" font-size="8.50" fill="#444" font-family='"Liberation Mono","Noto Serif CJK SC",monospace' text-anchor="middle" >RED</text>
<text x="634.80" y="177.00" font-size="8.30" fill="#444" font-family='"Liberation Mono","Noto Serif CJK SC",monospace' text-anchor="middle" font-weight="600" >红</text>
<text x="668.08 672.33" y="154.20" font-size="8.50" fill="#444" font-family='"Liberation Mono","Noto Serif CJK SC",monospace' text-anchor="middle" >B-</text>
<text x="665.95 670.20 674.45" y="165.60" font-size="8.50" fill="#444" font-family='"Liberation Mono","Noto Serif CJK SC",monospace' text-anchor="middle" >BLU</text>
<text x="670.20" y="177.00" font-size="8.30" fill="#444" font-family='"Liberation Mono","Noto Serif CJK SC",monospace' text-anchor="middle" font-weight="600" >蓝</text>
<text x="557.77 562.12 566.48 570.83 575.18 579.53 583.88 588.23 592.58 596.93 601.28 605.63 609.98 614.33 618.68 623.03 627.38 631.73 636.08 640.43 644.78 649.13 653.48" y="264.60" font-size="8.70" fill="#444" font-family='"Liberation Mono","Noto Serif CJK SC",monospace' text-anchor="middle" >Excitation sequence and</text>
<text x="557.77 562.12 566.48 570.83 575.18 579.53 583.88 588.23 592.58 596.93 601.28 605.63 609.98 614.33 618.68 623.03 627.38 631.73 636.08 640.43 644.78" y="273.90" font-size="8.70" fill="#444" font-family='"Liberation Mono","Noto Serif CJK SC",monospace' text-anchor="middle" >direcrion ofciockwise</text>
<line x1="553.40" y1="280.20" x2="553.40" y2="346.90" stroke="#000" stroke-width="1.30" />
<line x1="577.60" y1="280.20" x2="577.60" y2="346.90" stroke="#000" stroke-width="1.30" />
<line x1="597.70" y1="280.20" x2="597.70" y2="346.90" stroke="#000" stroke-width="1.30" />
<line x1="617.00" y1="280.20" x2="617.00" y2="346.90" stroke="#000" stroke-width="1.30" />
<line x1="636.80" y1="280.20" x2="636.80" y2="346.90" stroke="#000" stroke-width="1.30" />
<line x1="656.60" y1="280.20" x2="656.60" y2="346.90" stroke="#000" stroke-width="1.30" />
<line x1="553.40" y1="280.80" x2="656.60" y2="280.80" stroke="#000" stroke-width="1.30" />
<line x1="553.40" y1="293.50" x2="656.60" y2="293.50" stroke="#000" stroke-width="1.30" />
<line x1="553.40" y1="307.20" x2="656.60" y2="307.20" stroke="#000" stroke-width="1.30" />
<line x1="553.40" y1="320.70" x2="656.60" y2="320.70" stroke="#000" stroke-width="1.30" />
<line x1="553.40" y1="333.40" x2="656.60" y2="333.40" stroke="#000" stroke-width="1.30" />
<line x1="553.40" y1="346.30" x2="656.60" y2="346.30" stroke="#000" stroke-width="1.30" />
<text x="559.35 563.45 567.55 571.65" y="290.20" font-size="8.20" fill="#555" font-family='"Liberation Mono","Noto Serif CJK SC",monospace' text-anchor="middle" >STEP</text>
<text x="585.60 589.70" y="290.20" font-size="8.20" fill="#555" font-family='"Liberation Mono","Noto Serif CJK SC",monospace' text-anchor="middle" >A+</text>
<text x="605.30 609.40" y="290.20" font-size="8.20" fill="#555" font-family='"Liberation Mono","Noto Serif CJK SC",monospace' text-anchor="middle" >B+</text>
<text x="624.85 628.95" y="290.20" font-size="8.20" fill="#555" font-family='"Liberation Mono","Noto Serif CJK SC",monospace' text-anchor="middle" >A-</text>
<text x="644.65 648.75" y="290.20" font-size="8.20" fill="#555" font-family='"Liberation Mono","Noto Serif CJK SC",monospace' text-anchor="middle" >B-</text>
<text x="565.50" y="303.25" font-size="8.40" fill="#555" font-family='"Liberation Mono","Noto Serif CJK SC",monospace' text-anchor="middle" ><tspan font-family='"Liberation Serif","Noto Serif CJK SC",serif'>1</tspan></text>
<text x="587.65" y="302.25" font-size="7.00" fill="#777" font-family='"Liberation Mono","Noto Serif CJK SC",monospace' text-anchor="middle" >+</text>
<text x="607.35" y="302.25" font-size="7.00" fill="#777" font-family='"Liberation Mono","Noto Serif CJK SC",monospace' text-anchor="middle" >+</text>
<text x="0" y="0" font-size="8" fill="#777" font-family='"Liberation Mono","Noto Serif CJK SC",monospace' text-anchor="middle" transform="translate(626.90,301.05) scale(1.9,1)">-</text>
<text x="0" y="0" font-size="8" fill="#777" font-family='"Liberation Mono","Noto Serif CJK SC",monospace' text-anchor="middle" transform="translate(646.70,301.05) scale(1.9,1)">-</text>
<text x="565.50" y="316.85" font-size="8.40" fill="#555" font-family='"Liberation Mono","Noto Serif CJK SC",monospace' text-anchor="middle" ><tspan font-family='"Liberation Serif","Noto Serif CJK SC",serif'>2</tspan></text>
<text x="0" y="0" font-size="8" fill="#777" font-family='"Liberation Mono","Noto Serif CJK SC",monospace' text-anchor="middle" transform="translate(587.65,314.65) scale(1.9,1)">-</text>
<text x="607.35" y="315.85" font-size="7.00" fill="#777" font-family='"Liberation Mono","Noto Serif CJK SC",monospace' text-anchor="middle" >+</text>
<text x="626.90" y="315.85" font-size="7.00" fill="#777" font-family='"Liberation Mono","Noto Serif CJK SC",monospace' text-anchor="middle" >+</text>
<text x="0" y="0" font-size="8" fill="#777" font-family='"Liberation Mono","Noto Serif CJK SC",monospace' text-anchor="middle" transform="translate(646.70,314.65) scale(1.9,1)">-</text>
<text x="565.50" y="329.95" font-size="8.40" fill="#555" font-family='"Liberation Mono","Noto Serif CJK SC",monospace' text-anchor="middle" ><tspan font-family='"Liberation Serif","Noto Serif CJK SC",serif'>3</tspan></text>
<text x="0" y="0" font-size="8" fill="#777" font-family='"Liberation Mono","Noto Serif CJK SC",monospace' text-anchor="middle" transform="translate(587.65,327.75) scale(1.9,1)">-</text>
<text x="0" y="0" font-size="8" fill="#777" font-family='"Liberation Mono","Noto Serif CJK SC",monospace' text-anchor="middle" transform="translate(607.35,327.75) scale(1.9,1)">-</text>
<text x="626.90" y="328.95" font-size="7.00" fill="#777" font-family='"Liberation Mono","Noto Serif CJK SC",monospace' text-anchor="middle" >+</text>
<text x="646.70" y="328.95" font-size="7.00" fill="#777" font-family='"Liberation Mono","Noto Serif CJK SC",monospace' text-anchor="middle" >+</text>
<text x="565.50" y="342.75" font-size="8.40" fill="#555" font-family='"Liberation Mono","Noto Serif CJK SC",monospace' text-anchor="middle" ><tspan font-family='"Liberation Serif","Noto Serif CJK SC",serif'>4</tspan></text>
<text x="587.65" y="342.75" font-size="7.00" fill="#777" font-family='"Liberation Mono","Noto Serif CJK SC",monospace' text-anchor="middle" >+</text>
<text x="0" y="0" font-size="8" fill="#777" font-family='"Liberation Mono","Noto Serif CJK SC",monospace' text-anchor="middle" transform="translate(607.35,341.55) scale(1.9,1)">-</text>
<text x="0" y="0" font-size="8" fill="#777" font-family='"Liberation Mono","Noto Serif CJK SC",monospace' text-anchor="middle" transform="translate(626.90,341.55) scale(1.9,1)">-</text>
<text x="646.70" y="342.75" font-size="7.00" fill="#777" font-family='"Liberation Mono","Noto Serif CJK SC",monospace' text-anchor="middle" >+</text>
<line x1="544.60" y1="291.30" x2="544.60" y2="338.00" stroke="#000" stroke-width="1.10" />
<polygon points="544.60,338.00 543.80,332.00 545.40,332.00" fill="#000"/>
<line x1="664.80" y1="291.30" x2="664.80" y2="337.00" stroke="#000" stroke-width="1.10" />
<polygon points="664.80,291.30 665.60,297.30 664.00,297.30" fill="#000"/>
<text x="535.65 539.75" y="319.00" font-size="8.20" fill="#444" font-family='"Liberation Mono","Noto Serif CJK SC",monospace' text-anchor="middle" >CW</text>
<text x="670.65 674.75 678.85" y="319.00" font-size="8.20" fill="#444" font-family='"Liberation Mono","Noto Serif CJK SC",monospace' text-anchor="middle" >CCW</text>
<text x="557.77 562.12 566.48 570.83 575.18 579.53 583.88 588.23 592.58 596.93 601.28 605.63 609.98 614.33 618.68 623.03 627.38 631.73 636.08 640.43 644.78 649.13" y="358.90" font-size="8.70" fill="#444" font-family='"Liberation Mono","Noto Serif CJK SC",monospace' text-anchor="middle" >seen from the mounting</text>
<text x="557.77 562.12 566.48 570.83 575.18 579.53 583.88 588.23 592.58 596.93 601.28 605.63 609.98 614.33 618.68 623.03 627.38 631.73 636.08 640.43 644.78 649.13" y="368.50" font-size="8.70" fill="#444" font-family='"Liberation Mono","Noto Serif CJK SC",monospace' text-anchor="middle" >surface <tspan font-family='"Liberation Serif","Noto Serif CJK SC",serif'>1</tspan>t <tspan font-family='"Liberation Serif","Noto Serif CJK SC",serif'>1</tspan>sclockwlse</text>
<g transform="translate(524.5,433.2) scale(0.76,1)">
<text x="5.66 16.97 28.29 39.61 50.92 62.24 73.55 84.87 96.18 107.50 118.82 130.13 141.45 152.76 164.08 175.39 186.71" y="0.00" font-size="18.60" fill="#222" font-family='"Liberation Serif",serif' text-anchor="middle" >OK<tspan font-family='"Liberation Serif","Noto Serif CJK SC",serif'>42</tspan>STH<tspan font-family='"Liberation Serif","Noto Serif CJK SC",serif'>47</tspan>-<tspan font-family='"Liberation Serif","Noto Serif CJK SC",serif'>204</tspan>A<tspan font-family='"Liberation Serif","Noto Serif CJK SC",serif'>1</tspan>XH</text>
</g>
</g>
</svg>
</body></html>
